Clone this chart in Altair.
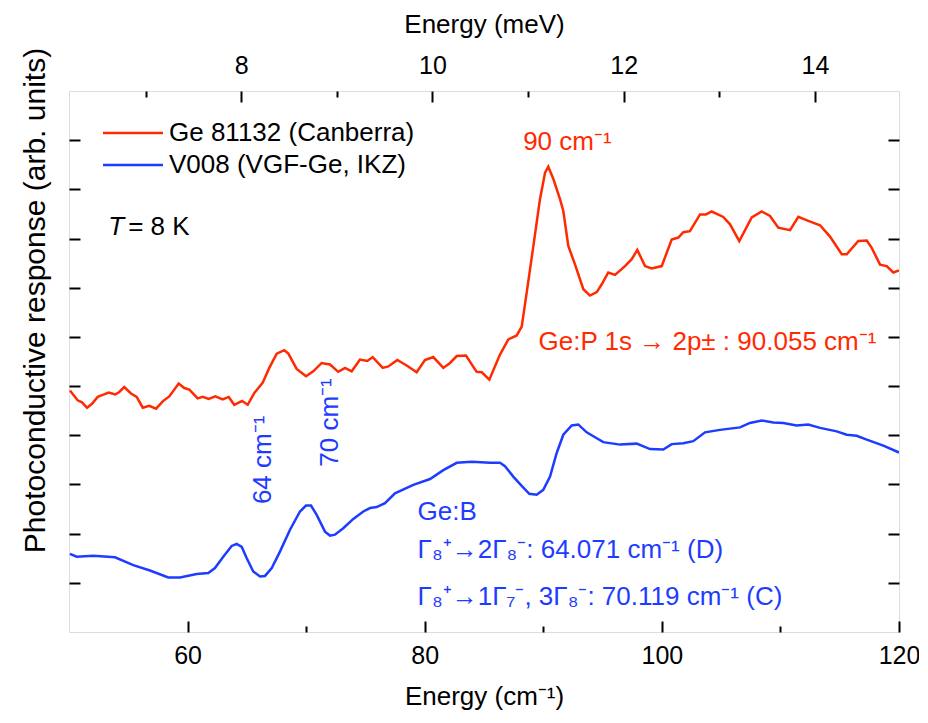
import altair as alt
import pandas as pd

# ---------------- data ----------------
SERIES = ["Ge 81132 (Canberra)", "V008 (VGF-Ge, IKZ)"]
COLORS = ["#ff2a00", "#1e3cff"]

red_x = [50.08, 50.73, 51.10, 51.52, 51.94, 52.42, 52.84, 53.35, 53.90, 54.24,
         54.66, 55.23, 55.71, 56.22, 56.77, 57.34, 57.95, 58.46, 59.25, 59.72,
         60.15, 60.85, 61.28, 61.78, 62.34, 62.96, 63.47, 63.94, 64.59, 65.07,
         65.63, 66.34, 66.89, 67.52, 68.16, 68.50, 69.20, 69.99, 70.60, 71.31,
         72.01, 72.71, 73.28, 73.84, 74.54, 75.16, 75.61, 76.46, 76.93, 77.69,
         78.48, 79.32, 80.02, 80.72, 81.57, 82.13, 82.70, 83.48, 84.38, 84.81,
         85.45, 86.35, 87.05, 87.76, 88.18, 88.60, 89.16, 89.72, 90.15, 90.42,
         90.85, 91.41, 91.69, 92.11, 92.68, 93.38, 93.94, 94.51, 94.93, 95.48,
         96.05, 96.89, 97.46, 97.93, 98.58, 99.14, 99.99, 100.83, 101.39, 101.81,
         102.37, 103.22, 103.72, 104.20, 105.18, 105.75, 106.53, 107.58, 108.42, 109.12,
         109.82, 110.81, 111.51, 112.35, 113.34, 114.18, 115.17, 115.59, 116.57, 117.28,
         117.70, 118.40, 118.96, 119.52, 120.0]
red_y = [4.91, 4.71, 4.67, 4.56, 4.64, 4.78, 4.82, 4.87, 4.83, 4.88,
         4.98, 4.85, 4.78, 4.56, 4.60, 4.54, 4.70, 4.79, 5.05, 4.96,
         4.93, 4.75, 4.78, 4.74, 4.79, 4.73, 4.78, 4.62, 4.70, 4.62,
         4.86, 5.07, 5.37, 5.66, 5.73, 5.66, 5.35, 5.20, 5.30, 5.47,
         5.44, 5.29, 5.37, 5.30, 5.54, 5.51, 5.59, 5.37, 5.40, 5.53,
         5.42, 5.28, 5.53, 5.59, 5.37, 5.47, 5.61, 5.62, 5.29, 5.28,
         5.13, 5.64, 5.95, 6.03, 6.21, 6.90, 7.84, 8.80, 9.34, 9.46,
         9.21, 8.80, 8.56, 7.85, 7.47, 6.97, 6.84, 6.91, 7.07, 7.31,
         7.26, 7.44, 7.58, 7.77, 7.44, 7.39, 7.44, 7.98, 8.02, 8.13,
         8.15, 8.49, 8.49, 8.55, 8.44, 8.29, 7.95, 8.43, 8.55, 8.46,
         8.22, 8.17, 8.44, 8.36, 8.27, 8.04, 7.68, 7.68, 7.95, 7.96,
         7.81, 7.47, 7.44, 7.31, 7.35]

blue_x = [50.08, 50.65, 52.05, 53.88, 55.42, 56.83, 58.37, 59.36, 60.77, 61.75,
          62.31, 63.01, 63.72, 64.14, 64.57, 64.99, 65.54, 66.11, 66.53, 67.10,
          67.80, 68.64, 69.48, 69.99, 70.41, 70.89, 71.59, 72.01, 72.43, 73.13,
          73.98, 74.82, 75.39, 75.95, 76.65, 77.49, 79.04, 80.45, 81.57, 82.70,
          83.96, 85.51, 86.35, 86.77, 87.47, 88.18, 88.82, 89.44, 90.00, 90.57,
          91.13, 91.69, 92.40, 92.95, 93.66, 94.22, 95.06, 96.47, 97.88, 99.00,
          100.12, 100.83, 101.81, 102.65, 103.64, 104.90, 106.59, 107.43, 108.42, 109.40,
          110.24, 111.37, 112.35, 113.34, 114.75, 115.59, 116.43, 117.28, 118.68, 120.0]
blue_y = [1.59, 1.53, 1.55, 1.52, 1.36, 1.25, 1.11, 1.11, 1.18, 1.20,
          1.30, 1.53, 1.75, 1.79, 1.73, 1.50, 1.23, 1.13, 1.14, 1.30,
          1.64, 2.08, 2.45, 2.57, 2.57, 2.38, 2.04, 1.96, 1.98, 2.11,
          2.30, 2.45, 2.52, 2.54, 2.62, 2.82, 2.99, 3.11, 3.29, 3.44,
          3.46, 3.44, 3.44, 3.37, 3.16, 2.97, 2.81, 2.79, 2.89, 3.16,
          3.64, 4.01, 4.20, 4.22, 4.06, 3.98, 3.86, 3.81, 3.83, 3.72,
          3.71, 3.82, 3.84, 3.88, 4.06, 4.11, 4.16, 4.25, 4.30, 4.26,
          4.25, 4.20, 4.22, 4.15, 4.08, 4.01, 3.99, 3.91, 3.79, 3.65]

bottom_major = [60, 80, 100, 120]
bottom_minor = [70, 90, 110]
top_major = [8, 10, 12, 14]
top_minor = [7, 9, 11, 13]
y_ticks = [1, 2, 3, 4, 5, 6, 7, 8, 9, 10]
MEV_PER_CM = 0.123984

# annotations (data coordinates)
red_ann_text = ["90 cm⁻¹", "Ge:P 1s \u2192 2p\u00b1 : 90.055 cm⁻¹"]
red_ann_x = [88.3, 89.6]
red_ann_y = [9.96, 5.89]

blue_ann_text = ["Ge:B",
                 "Γ₈⁺→2Γ₈⁻:  64.071 cm⁻¹ (D)",
                 "Γ₈⁺→1Γ₇⁻, 3Γ₈⁻:  70.119 cm⁻¹ (C)"]
blue_ann_x = [79.4, 79.4, 79.4]
blue_ann_y = [2.44, 1.67, 0.71]

rot_ann_text = ["64 cm⁻¹", "70 cm⁻¹"]
rot_ann_x = [66.36, 72.01]
rot_ann_y = [3.50, 4.26]

temp_x = [53.3]
temp_y = [8.23]

# ---------------- build ----------------
df = pd.concat([
    pd.DataFrame({"x": red_x, "y": red_y, "series": SERIES[0]}),
    pd.DataFrame({"x": blue_x, "y": blue_y, "series": SERIES[1]}),
], ignore_index=True)

FONT = "Liberation Sans"
xs = alt.Scale(domain=[50, 120], nice=False, zero=False)
ys = alt.Scale(domain=[0, 11], nice=False, zero=False)
ms = alt.Scale(domain=[50 * MEV_PER_CM, 120 * MEV_PER_CM], nice=False, zero=False)

base = alt.Chart(df)

lines = base.mark_line(strokeWidth=2.5, clip=True).encode(
    x=alt.X("x:Q", scale=xs, axis=alt.Axis(
        orient="bottom", values=bottom_major, ticks=False, tickSize=0, domain=False,
        grid=False, labelFontSize=25, labelFont=FONT, labelColor="black",
        labelPadding=11, labelFlush=False, labelOverlap=False,
        title="Energy (cm⁻¹)", titleFontSize=26, titleFont=FONT,
        titleFontWeight="normal", titleColor="black", titleY=72,
        titleBaseline="alphabetic")),
    y=alt.Y("y:Q", scale=ys, axis=alt.Axis(
        orient="left", labels=False, ticks=False, domain=False, grid=False,
        title="Photoconductive response (arb. units)", titleFontSize=30,
        titleFont=FONT, titleFontWeight="normal", titleColor="black",
        titleX=-34, titleY=209, titleAngle=270, titleAlign="center",
        titleBaseline="middle")),
    color=alt.Color("series:N", scale=alt.Scale(domain=SERIES, range=COLORS),
                    legend=alt.Legend(
                        orient="none", legendX=51, legendY=29, title=None,
                        symbolType="M-3,0H3", symbolSize=400, symbolStrokeWidth=2.5,
                        labelFontSize=26, labelFont=FONT, labelColor="black",
                        labelLimit=500, labelOffset=23, rowPadding=6, padding=0)),
    order=alt.Order("x:Q"),
)

tick_style = dict(labels=False, domain=False, grid=False, tickColor="black",
                  tickWidth=2, title=None)

pts = base.mark_point(opacity=0)

t1 = pts.encode(
    x=alt.X("x:Q", scale=xs, axis=alt.Axis(orient="bottom", values=bottom_major,
                                           tickSize=11, offset=-11, **tick_style)),
    y=alt.Y("y:Q", scale=ys, axis=alt.Axis(orient="left", values=y_ticks,
                                           tickSize=11, offset=-11, **tick_style)),
)
t2 = pts.encode(
    x=alt.X("x:Q", scale=xs, axis=alt.Axis(orient="bottom", values=bottom_minor,
                                           tickSize=6, offset=-6, **tick_style)),
    y=alt.Y("y:Q", scale=ys, axis=alt.Axis(orient="right", values=y_ticks,
                                           tickSize=11, offset=-11, **tick_style)),
)

mev_pts = pts.transform_calculate(mev=f"datum.x * {MEV_PER_CM}")
t3 = mev_pts.encode(
    x=alt.X("mev:Q", scale=ms, axis=alt.Axis(orient="top", values=top_major,
                                             tickSize=11, offset=-11, **tick_style)),
    y=alt.Y("y:Q", scale=ys, axis=None),
)
t4 = mev_pts.encode(
    x=alt.X("mev:Q", scale=ms, axis=alt.Axis(orient="top", values=top_minor,
                                             tickSize=6, offset=-6, **tick_style)),
    y=alt.Y("y:Q", scale=ys, axis=None),
)
t5 = mev_pts.encode(
    x=alt.X("mev:Q", scale=ms, axis=alt.Axis(
        orient="top", values=top_major, ticks=False, tickSize=0, domain=False,
        grid=False, labelFontSize=25, labelFont=FONT, labelColor="black",
        labelPadding=13, labelFlush=False, labelOverlap=False,
        title="Energy (meV)", titleFontSize=26, titleFont=FONT,
        titleFontWeight="normal", titleColor="black", titleY=-59,
        titleBaseline="alphabetic")),
    y=alt.Y("y:Q", scale=ys, axis=None),
)


def text_layer(xv, yv, tv, color, **mark):
    d = pd.DataFrame({"x": xv, "y": yv, "text": tv})
    opts = dict(font=FONT, fontSize=26, align="left", baseline="middle", color=color)
    opts.update(mark)
    return alt.Chart(d).mark_text(**opts).encode(
        x=alt.X("x:Q", scale=xs, axis=None),
        y=alt.Y("y:Q", scale=ys, axis=None),
        text="text:N",
    )


red_txt = text_layer(red_ann_x, red_ann_y, red_ann_text, COLORS[0])
blue_txt = text_layer(blue_ann_x, blue_ann_y, blue_ann_text, COLORS[1])
rot_txt = text_layer(rot_ann_x, rot_ann_y, rot_ann_text, COLORS[1],
                     angle=270, align="center")
t_italic = text_layer(temp_x, temp_y, ["T"], "black", fontStyle="italic")
t_rest = text_layer(temp_x, temp_y, ["= 8 K"], "black", dx=20)

chart = alt.layer(
    t1, t2, t3, t4, t5, lines, red_txt, blue_txt, rot_txt, t_italic, t_rest
).resolve_scale(
    x="independent", y="independent"
).properties(
    width=830, height=541,
    autosize=alt.AutoSizeParams(type="none"),
    padding={"left": 61, "top": 83, "right": 20, "bottom": 81},
).configure_view(
    stroke="black", strokeWidth=2
).configure(font=FONT)

chart.save("out.html", embed_options={"renderer": "svg", "actions": False})
